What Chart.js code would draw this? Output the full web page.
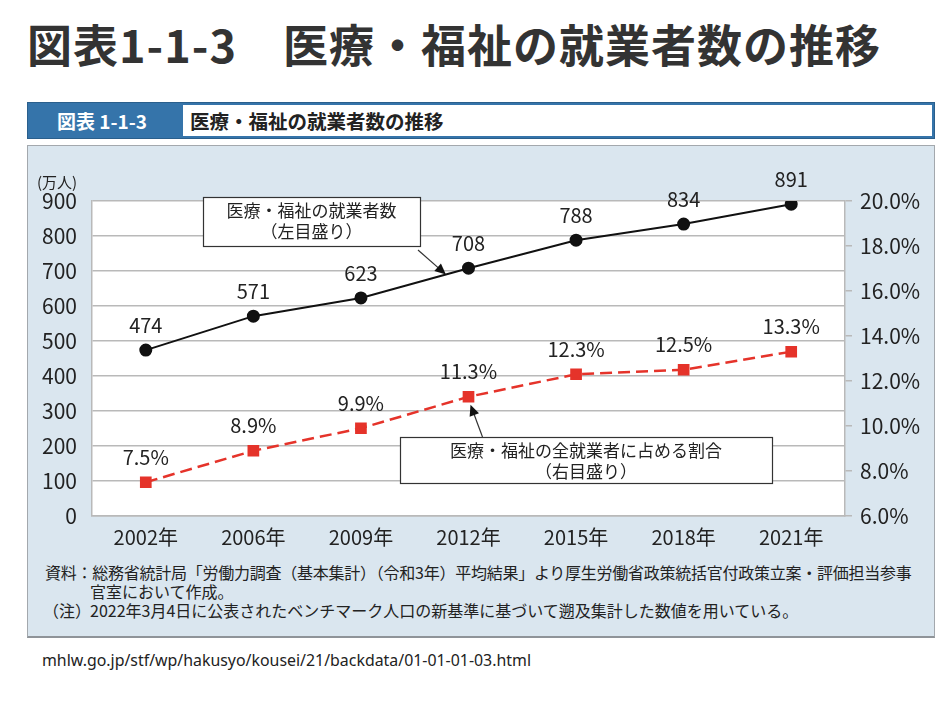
<!DOCTYPE html>
<html lang="ja">
<head>
<meta charset="utf-8">
<script src="https://cdn.jsdelivr.net/npm/chart.js@4.4.1/dist/chart.umd.min.js"></script>
<style>
  body { margin: 0; background: #fff; font-family: "Noto Sans CJK JP", "Noto Sans", sans-serif; color: #222; }
  .page { position: relative; width: 950px; height: 709px; }
  .title { position: absolute; left: 27px; top: 14px; font-size: 45px; font-weight: bold; color: #333; white-space: nowrap; line-height: 60px; letter-spacing: 1px; }
  .hdr { position: absolute; left: 27px; top: 102px; width: 908px; height: 37px; background: #3574aa; box-sizing: border-box; border: 1px solid #2a5f8c; }
  .hdr .num { position: absolute; left: 29px; top: 0; line-height: 35px; font-size: 19px; font-weight: bold; color: #fff; }
  .hdr .txt { position: absolute; left: 155px; top: 2px; right: 2px; bottom: 2px; background: #fff; }
  .hdr .txt span { position: absolute; left: 7px; top: 0; line-height: 31px; font-size: 19.5px; font-weight: bold; color: #222; }
  .panel { position: absolute; left: 27px; top: 145px; width: 908px; height: 493px; background: #dae6ef; box-sizing: border-box; border: 1px solid #a3a8ad; border-bottom: 2px solid #8f9499; }
  .chartBox { position: absolute; left: 0; top: 0; width: 906px; height: 410px; }
  .unit { position: absolute; left: 9px; top: 25px; font-size: 15px; color: #222; }
  .note { position: absolute; font-size: 16px; color: #222; white-space: nowrap; line-height: 19px; }
  .url { position: absolute; left: 42px; top: 649px; font-size: 15.9px; color: #222; font-family: "Noto Sans", sans-serif; }
</style>
</head>
<body>
<div class="page">
  <div class="title">図表1-1-3　医療・福祉の就業者数の推移</div>
  <div class="hdr">
    <div class="num">図表 1-1-3</div>
    <div class="txt"><span>医療・福祉の就業者数の推移</span></div>
  </div>
  <div class="panel">
    <div class="chartBox"><canvas id="chart"></canvas></div>
    <div class="unit">(万人)</div>
    <div class="note" style="left:17px; top:417px; letter-spacing:-0.25px;">資料：総務省統計局「労働力調査（基本集計）（令和3年）平均結果」より厚生労働省政策統括官付政策立案・評価担当参事</div>
    <div class="note" style="left:62px; top:436px;">官室において作成。</div>
    <div class="note" style="left:15px; top:455px;">（注）</div>
    <div class="note" style="left:62px; top:455px;">2022年3月4日に公表されたベンチマーク人口の新基準に基づいて遡及集計した数値を用いている。</div>
  </div>
  <div class="url">mhlw.go.jp/stf/wp/hakusyo/kousei/21/backdata/01-01-01-03.html</div>
</div>
<script>
// data
const years = ['2002年', '2006年', '2009年', '2012年', '2015年', '2018年', '2021年'];
const workers = [474, 571, 623, 708, 788, 834, 891];          // 万人 (left axis)
const shareOfAll = [7.5, 8.9, 9.9, 11.3, 12.3, 12.5, 13.3];    // % (right axis)
const workersLabel = '医療・福祉の就業者数';
const shareLabel = '医療・福祉の全就業者に占める割合';

const FONT = '"Noto Sans CJK JP", "Noto Sans", sans-serif';
const GRID = '#b9b9b9';

// --- value labels above every point ---
const pointLabels = {
    id: 'pointLabels',
    afterDatasetsDraw(chart) {
        const ctx = chart.ctx;
        ctx.save();
        ctx.font = '20px ' + FONT;
        ctx.fillStyle = '#222';
        ctx.textAlign = 'center';
        ctx.textBaseline = 'middle';
        chart.data.datasets.forEach((ds, di) => {
            chart.getDatasetMeta(di).data.forEach((pt, i) => {
                const v = ds.data[i];
                const txt = di === 0 ? String(v) : v.toFixed(1) + '%';
                ctx.fillText(txt, pt.x, pt.y - 25);
            });
        });
        ctx.restore();
    }
};

// --- callout boxes with arrows ---
const drawArrow = (ctx, x1, y1, x2, y2) => {
    const a = Math.atan2(y2 - y1, x2 - x1);
    ctx.beginPath();
    ctx.moveTo(x1, y1);
    ctx.lineTo(x2 - 7 * Math.cos(a), y2 - 7 * Math.sin(a));
    ctx.stroke();
    ctx.beginPath();
    ctx.moveTo(x2, y2);
    ctx.lineTo(x2 - 11 * Math.cos(a) + 5 * Math.sin(a), y2 - 11 * Math.sin(a) - 5 * Math.cos(a));
    ctx.lineTo(x2 - 11 * Math.cos(a) - 5 * Math.sin(a), y2 - 11 * Math.sin(a) + 5 * Math.cos(a));
    ctx.closePath();
    ctx.fill();
};

const callouts = {
    id: 'callouts',
    afterDatasetsDraw(chart) {
        const ctx = chart.ctx;
        const ca = chart.chartArea;
        const m0 = chart.getDatasetMeta(0).data;
        const m1 = chart.getDatasetMeta(1).data;
        ctx.save();
        ctx.strokeStyle = '#333';
        ctx.fillStyle = '#111';
        ctx.lineWidth = 1.2;

        // arrow to the black line, between 2009 and 2012
        const t = 0.79;
        const tx = m0[2].x + (m0[3].x - m0[2].x) * t;
        const ty = m0[2].y + (m0[3].y - m0[2].y) * t;
        drawArrow(ctx, ca.left + 326, ca.top + 49, tx, ty);

        // arrow to the red 2012 point
        drawArrow(ctx, m1[3].x + 14, ca.top + 236, m1[3].x + 2, m1[3].y + 8);

        const boxes = [
            { x: ca.left + 111, y: ca.top - 4, w: 217, h: 49, lines: [workersLabel, '（左目盛り）'] },
            { x: ca.left + 308, y: ca.top + 236, w: 372, h: 46, lines: [shareLabel, '（右目盛り）'] }
        ];
        ctx.font = '17px ' + FONT;
        ctx.textAlign = 'center';
        ctx.textBaseline = 'middle';
        boxes.forEach(b => {
            ctx.fillStyle = '#fff';
            ctx.fillRect(b.x, b.y, b.w, b.h);
            ctx.strokeRect(b.x + 0.5, b.y + 0.5, b.w, b.h);
            ctx.fillStyle = '#222';
            ctx.fillText(b.lines[0], b.x + b.w / 2, b.y + 14);
            ctx.fillText(b.lines[1], b.x + b.w / 2, b.y + 35);
        });
        ctx.restore();
    }
};

// white plot background
const plotBg = {
    id: 'plotBg',
    beforeDraw(chart) {
        const { ctx, chartArea: a } = chart;
        ctx.save();
        ctx.fillStyle = '#fff';
        ctx.fillRect(a.left, a.top, a.right - a.left, a.bottom - a.top);
        ctx.restore();
    }
};

new Chart(document.getElementById('chart'), {
    type: 'line',
    data: {
        labels: years,
        datasets: [
            {
                label: workersLabel,
                data: workers,
                yAxisID: 'y',
                borderColor: '#111',
                backgroundColor: '#111',
                borderWidth: 2,
                pointRadius: 5.5,
                pointHoverRadius: 5.5,
                tension: 0
            },
            {
                label: shareLabel,
                data: shareOfAll,
                yAxisID: 'y2',
                borderColor: '#e5332a',
                backgroundColor: '#e5332a',
                borderWidth: 2.5,
                borderDash: [12, 6],
                pointStyle: 'rect',
                pointRadius: 6.5,
                pointHoverRadius: 6.5,
                tension: 0
            }
        ]
    },
    options: {
        responsive: true,
        maintainAspectRatio: false,
        animation: false,
        layout: { padding: { top: 55, left: 0, right: 0, bottom: 0 } },
        plugins: {
            legend: { display: false },
            tooltip: { enabled: false }
        },
        scales: {
            x: {
                offset: true,
                grid: { display: false },
                border: { color: GRID, width: 1.5 },
                ticks: { color: '#222', font: { family: FONT, size: 20 }, padding: 1 },
                afterFit: s => { s.height = 40; }
            },
            y: {
                position: 'left',
                min: 0,
                max: 900,
                ticks: { stepSize: 100, color: '#222', font: { family: FONT, size: 21 }, padding: 15 },
                grid: { color: GRID, lineWidth: 1.5, drawTicks: false },
                border: { color: GRID, width: 1.5 },
                afterFit: s => { s.width = 64; }
            },
            y2: {
                position: 'right',
                min: 6,
                max: 20,
                ticks: {
                    stepSize: 2,
                    color: '#222',
                    font: { family: FONT, size: 21 },
                    padding: 8,
                    callback: v => v.toFixed(1) + '%'
                },
                grid: { drawOnChartArea: false, color: GRID, tickLength: 7, lineWidth: 1.5 },
                border: { color: GRID, width: 1.5 },
                afterFit: s => { s.width = 89; }
            }
        }
    },
    plugins: [plotBg, pointLabels, callouts]
});
</script>
</body>
</html>
